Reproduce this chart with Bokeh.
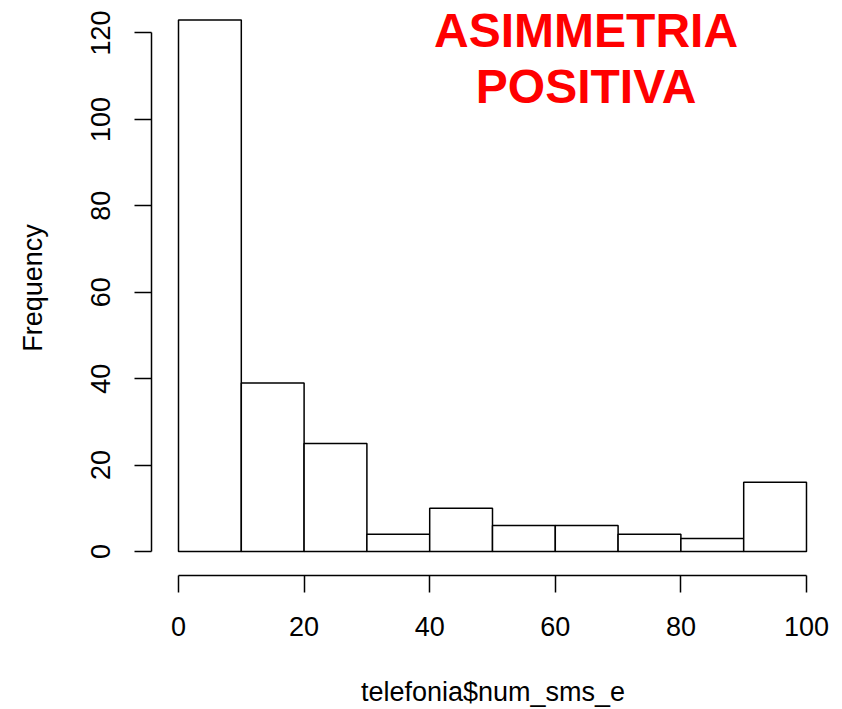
from bokeh.plotting import figure
from bokeh.models import Range1d, Label, FixedTicker
from bokeh.embed import file_html
from bokeh.resources import INLINE

# Histogram data
breaks = [0, 10, 20, 30, 40, 50, 60, 70, 80, 90, 100]
counts = [123, 39, 25, 4, 10, 6, 6, 4, 3, 16]
x_ticks = [0, 20, 40, 60, 80, 100]
y_ticks = [0, 20, 40, 60, 80, 100, 120]
title_lines = ["ASIMMETRIA", "POSITIVA"]
x_label = "telefonia$num_sms_e"
y_label = "Frequency"

FONT = "Liberation Sans"

p = figure(width=842, height=709, output_backend="svg", toolbar_location=None,
           x_range=Range1d(-4.30, 104.46), y_range=Range1d(-5.554, 127.52),
           min_border_left=151, min_border_right=8, min_border_top=0,
           min_border_bottom=134)
p.outline_line_color = None
p.grid.visible = False
p.background_fill_color = "white"
p.border_fill_color = "white"

p.quad(left=breaks[:-1], right=breaks[1:], bottom=0, top=counts,
       fill_color="white", line_color="black", line_width=1.5)

for ax in (p.xaxis[0], p.yaxis[0]):
    ax.axis_line_width = 1.5
    ax.axis_line_color = "black"
    ax.major_tick_line_width = 1.5
    ax.major_tick_line_color = "black"
    ax.major_tick_out = 17
    ax.major_tick_in = 0
    ax.minor_tick_line_color = None
    ax.major_label_text_font = FONT
    ax.major_label_text_font_size = "27px"
    ax.major_label_text_color = "black"
    ax.axis_label_text_font = FONT
    ax.axis_label_text_font_size = "27px"
    ax.axis_label_text_font_style = "normal"
    ax.axis_label_text_color = "black"

p.xaxis.ticker = FixedTicker(ticks=x_ticks)
p.xaxis.bounds = (x_ticks[0], x_ticks[-1])
p.xaxis.axis_label = x_label
p.xaxis.major_label_standoff = 24
p.xaxis.axis_label_standoff = 38

p.yaxis.ticker = FixedTicker(ticks=y_ticks)
p.yaxis.bounds = (y_ticks[0], y_ticks[-1])
p.yaxis.axis_label = y_label
p.yaxis.major_label_orientation = "parallel"
p.yaxis.major_label_standoff = 24
p.yaxis.axis_label_standoff = 41

p.add_layout(Label(x=64.9, y=120.6, text=title_lines[0], text_align="center",
                   text_baseline="alphabetic", text_font=FONT, text_font_size="48px",
                   text_font_style="bold", text_color="#FF0000"))
p.add_layout(Label(x=64.9, y=107.6, text=title_lines[1], text_align="center",
                   text_baseline="alphabetic", text_font=FONT, text_font_size="48px",
                   text_font_style="bold", text_color="#FF0000"))

open("out.html", "w").write(file_html(p, INLINE))
